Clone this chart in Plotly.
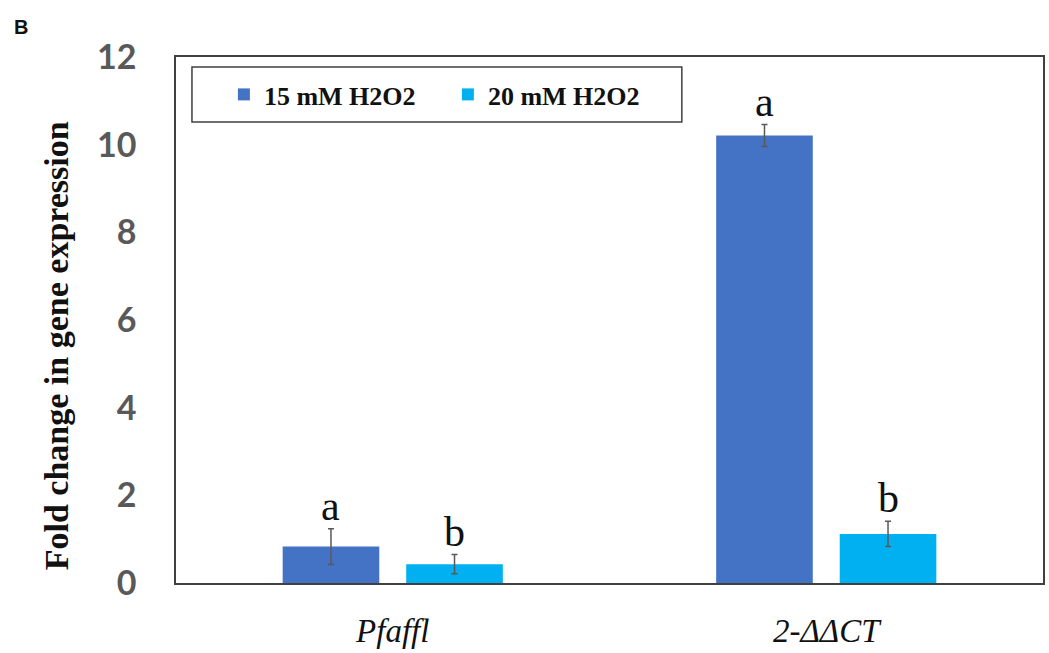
import plotly.graph_objects as go

# Expression data: fold change per method and H2O2 treatment
methods = ["Pfaffl", "2-ΔΔCT"]
fold_15mM = [0.83, 10.21]
err_15mM = [0.41, 0.25]
fold_20mM = [0.43, 1.12]
err_20mM = [0.22, 0.29]
letters_15mM = ["a", "a"]
letters_20mM = ["b", "b"]
series_names = ["15 mM H2O2", "20 mM H2O2"]
y_ticks = [0, 2, 4, 6, 8, 10, 12]

W, H = 1049, 653
M = dict(l=176, r=4, t=57, b=70)
BARGAP = 0.43
GROUPGAP = 0.218

BLUE = "#4472C4"
CYAN = "#00B0F0"
AXIS = "#595959"
SERIF = "Liberation Serif"

fig = go.Figure()
for name, vals, errs, col in [
    (series_names[0], fold_15mM, err_15mM, BLUE),
    (series_names[1], fold_20mM, err_20mM, CYAN),
]:
    fig.add_trace(go.Bar(
        x=methods, y=vals, name=name,
        marker=dict(color=col, line=dict(width=0)),
        error_y=dict(type="data", array=errs, color=AXIS, thickness=1.5, width=3),
    ))

# significance letters above each error bar, shifted to the bar centre
plot_w = W - M["l"] - M["r"]
plot_h = H - M["t"] - M["b"]
slot = plot_w / len(methods)
half_offset = slot * (1 - BARGAP) / 4
for i, m in enumerate(methods):
    for vals, errs, letters, sign in [
        (fold_15mM, err_15mM, letters_15mM, -1),
        (fold_20mM, err_20mM, letters_20mM, 1),
    ]:
        fig.add_annotation(
            x=m, y=vals[i] + errs[i], xref="x", yref="y",
            text=letters[i], showarrow=False,
            xshift=sign * half_offset, yanchor="bottom", yshift=-2,
            font=dict(family=SERIF, size=42, color="#111111"),
        )

# y-axis title
fig.add_annotation(
    x=-120 / plot_w, y=0.5 - 26 / plot_h,
    xref="paper", yref="paper", xanchor="center", yanchor="middle",
    text="<b>Fold change in gene expression</b>", textangle=-90, showarrow=False,
    font=dict(family=SERIF, size=34, color="#111111"),
)

# panel label
fig.add_annotation(
    x=-(M["l"] - 12) / plot_w, y=1 + (57 - 27) / plot_h,
    xref="paper", yref="paper", xanchor="left", yanchor="middle",
    text="<b>B</b>", showarrow=False,
    font=dict(family="Liberation Sans", size=20, color="#111111"),
)

# legend frame
fig.add_shape(
    type="rect", xref="paper", yref="paper",
    x0=16 / plot_w, x1=507 / plot_w,
    y0=1 - 65 / plot_h, y1=1 - 10 / plot_h,
    line=dict(color="#404040", width=1.5), fillcolor="white", layer="below",
)

fig.update_layout(
    width=W, height=H, autosize=False,
    margin=M,
    paper_bgcolor="white", plot_bgcolor="white",
    barmode="group", bargap=BARGAP, bargroupgap=GROUPGAP,
    showlegend=True,
    legend=dict(
        orientation="h", x=48 / plot_w, y=1 - 37.5 / plot_h,
        xanchor="left", yanchor="middle",
        entrywidth=179, entrywidthmode="pixels",
        bgcolor="rgba(0,0,0,0)", borderwidth=0,
        font=dict(family=SERIF, size=26, color="#111111", weight="bold"),
        traceorder="normal",
    ),
    xaxis=dict(
        showline=True, linecolor="#404040", linewidth=1.5, mirror=True,
        ticks="outside", ticklen=0, ticklabelstandoff=18,
        tickfont=dict(family=SERIF, size=33, color="#111111", style="italic"),
        showgrid=False, zeroline=False,
    ),
    yaxis=dict(
        range=[0, 12], tickvals=y_ticks,
        showline=True, linecolor="#404040", linewidth=1.5, mirror=True,
        ticks="outside", ticklen=0, ticklabelstandoff=31,
        tickfont=dict(family="Lato", size=34, color=AXIS, weight="bold"),
        showgrid=False, zeroline=False,
    ),
)

fig.write_html("out.html")
